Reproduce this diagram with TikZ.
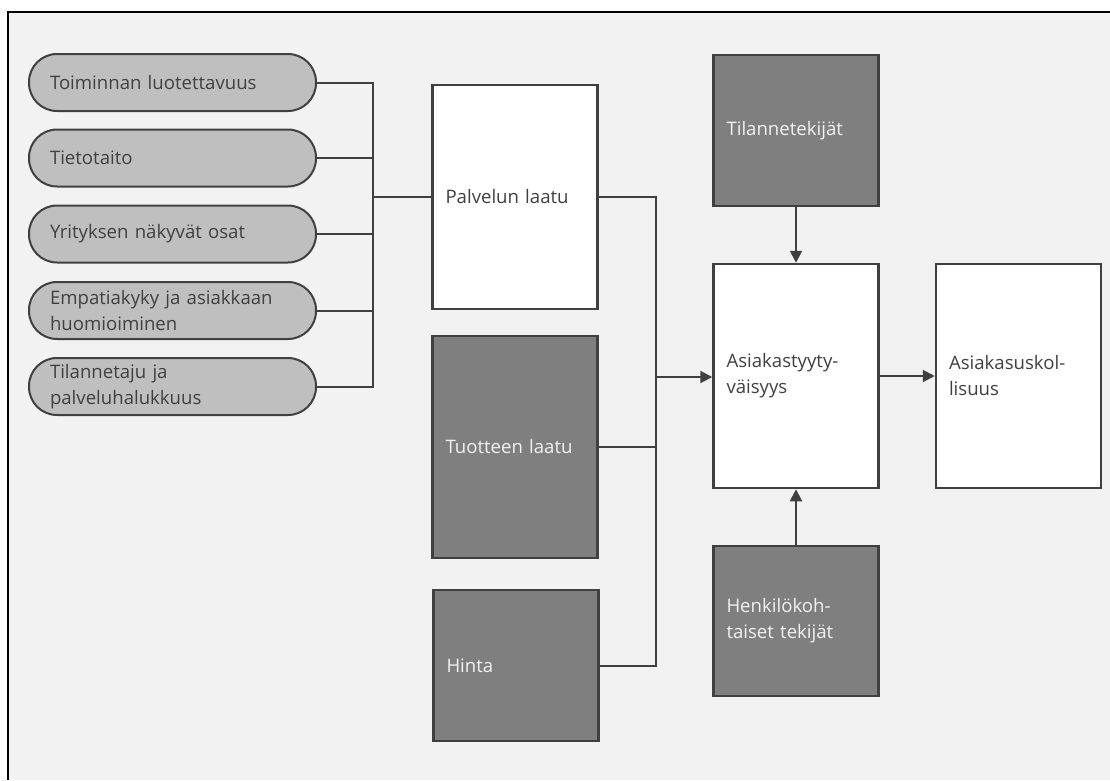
\documentclass[tikz,border=0pt]{standalone}
\usepackage{fontspec}
\setmainfont{Open Sans}
\usetikzlibrary{arrows.meta}
\definecolor{paper}{HTML}{F2F2F2}
\definecolor{pillfill}{HTML}{BFBFBF}
\definecolor{darkfill}{HTML}{7F7F7F}
\definecolor{edge}{HTML}{404040}
\definecolor{ink}{HTML}{404040}
\definecolor{lightink}{HTML}{F2F2F2}
\tikzset{
  pill/.style={draw=edge, line width=2pt, fill=pillfill, rounded corners=28pt,
    minimum width=287pt, minimum height=57pt, inner xsep=21pt, inner ysep=0pt,
    text width=245pt, align=left, text=ink, font=\fontsize{18.6}{26}\selectfont},
  whitebox/.style={draw=edge, line width=2.5pt, fill=white,
    minimum width=165pt, inner xsep=13pt, inner ysep=0pt,
    text width=139pt, align=left, text=ink, font=\fontsize{18.6}{26}\selectfont},
  darkbox/.style={whitebox, fill=darkfill, text=lightink},
  link/.style={draw=edge, line width=2pt},
  flow/.style={link, -{Triangle[length=12pt,width=12pt]}}
}
\begin{document}
\begin{tikzpicture}[x=1pt,y=-1pt]
  \useasboundingbox (0,0) rectangle (1110,780);
  \fill[white] (0,0) rectangle (1110,780);
  \fill[paper] (8,12) rectangle (1110,780);
  \draw[black, line width=2.5pt] (8,780) -- (8,12) -- (1110,12);

  % quality dimensions
  \node[pill] (p1) at (172.5,82.5) {Toiminnan luotettavuus};
  \node[pill] (p2) at (172.5,158) {Tietotaito};
  \node[pill] (p3) at (172.5,234) {Yrityksen näkyvät osat};
  \node[pill] (p4) at (172.5,310.5) {Empatiakyky ja asiakkaan\\huomioiminen};
  \node[pill] (p5) at (172.5,386.5) {Tilannetaju ja\\palveluhalukkuus};

  % middle column
  \node[whitebox, minimum height=224pt] (pl) at (515,197) {Palvelun laatu};
  \node[darkbox, minimum height=222pt] (tl) at (515,447) {Tuotteen laatu};
  \node[darkbox, minimum height=151pt] (hi) at (516,665.5) {Hinta};

  % right part
  \node[darkbox, minimum height=151pt] (tk) at (796,130.5) {Tilannetekijät};
  \node[whitebox, minimum height=224pt] (at) at (796,376) {Asiakastyyty-\\väisyys};
  \node[whitebox, minimum height=224pt] (au) at (1018.5,376) {Asiakasuskol-\\lisuus};
  \node[darkbox, minimum height=150pt] (hk) at (796,621) {Henkilökoh-\\taiset tekijät};

  % junction points
  \coordinate (busL) at (373,197);
  \coordinate (busR) at (656,377);

  \foreach \p in {p1,p2,p3,p4,p5}
    \draw[link] (\p.east) -| (busL);
  \draw[link] (busL) -- (pl.west);

  \draw[link] (pl.east) -| (busR);
  \draw[link] (tl.east) -| (busR);
  \draw[link] (hi.east) -| (busR);
  \draw[flow] (busR) -- (busR -| at.west);

  \draw[flow] (at.east) -- (au.west);
  \draw[flow] (tk.south) -- (at.north);
  \draw[flow] (hk.north) -- (at.south);
\end{tikzpicture}
\end{document}
